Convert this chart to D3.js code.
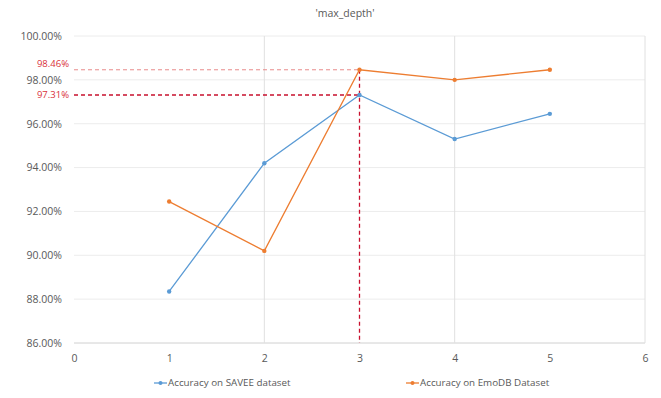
<!DOCTYPE html>
<html><head><meta charset="utf-8">
<script src="https://cdn.jsdelivr.net/npm/d3@7/dist/d3.min.js"></script>
<style>body{margin:0;background:#fff}svg{display:block}text{font-family:"Open Sans",sans-serif}</style>
</head><body>
<script>
const xValues = [1, 2, 3, 4, 5];
const savee = [88.35, 94.2, 97.31, 95.3, 96.45];
const emodb = [92.45, 90.2, 98.46, 98.0, 98.46];
const seriesNames = ["Accuracy on SAVEE dataset", "Accuracy on EmoDB Dataset"];
const xTicks = [0, 1, 2, 3, 4, 5, 6];
const yTicks = [86, 88, 90, 92, 94, 96, 98, 100];
const highlightX = 3;
const highlightY = [98.46, 97.31];
const title = "'max_depth'";

const W = 661, H = 398;
const svg = d3.select("body").append("svg").attr("width", W).attr("height", H);
const x = d3.scaleLinear().domain([0, 6]).range([74, 645]);
const y = d3.scaleLinear().domain([86, 100]).range([343, 36]);

svg.append("text").attr("x", 345).attr("y", 17).attr("text-anchor", "middle")
  .attr("font-size", 10.5).attr("fill", "#595959").text(title);

// gridlines
svg.append("g").selectAll("line").data(yTicks).join("line")
  .attr("x1", x(0)).attr("x2", x(6)).attr("y1", d => y(d)).attr("y2", d => y(d))
  .attr("stroke", d => d === 86 ? "#d0d0d0" : "#ececec").attr("stroke-width", 1);
svg.append("g").selectAll("line").data([2, 4, 6]).join("line")
  .attr("x1", d => x(d)).attr("x2", d => x(d)).attr("y1", y(100)).attr("y2", y(86))
  .attr("stroke", "#e0e0e0").attr("stroke-width", 1);

// axes labels
const yAxis = d3.axisLeft(y).tickValues(yTicks).tickFormat(d => d.toFixed(2) + "%").tickSize(0).tickPadding(12);
const gy = svg.append("g").attr("transform", `translate(${x(0)},0)`).call(yAxis);
gy.select(".domain").remove();
gy.selectAll("text").attr("font-size", 10.5).attr("fill", "#595959").attr("font-family", "Open Sans");

const xAxis = d3.axisBottom(x).tickValues(xTicks).tickFormat(d3.format("d")).tickSize(0).tickPadding(12);
const gx = svg.append("g").attr("transform", `translate(0,${y(86)})`).call(xAxis);
gx.select(".domain").remove();
gx.selectAll("text").attr("font-size", 10.5).attr("fill", "#595959").attr("font-family", "Open Sans");

// highlight dashed lines
const hl = svg.append("g");
const labelShift = [-6, 0];
highlightY.forEach((v, i) => {
  hl.append("line").attr("x1", x(0)).attr("x2", x(highlightX)).attr("y1", y(v)).attr("y2", y(v))
    .attr("stroke", i === 0 ? "#e88a8a" : "#c8102e").attr("stroke-width", i === 0 ? 1 : 1.3).attr("stroke-dasharray", "4,3");
  hl.append("text").attr("x", 69).attr("y", y(v) + labelShift[i]).attr("dy", "0.35em").attr("text-anchor", "end")
    .attr("font-size", 9.5).attr("fill", "#d9303a").text(v.toFixed(2) + "%");
});
hl.append("line").attr("x1", x(highlightX)).attr("x2", x(highlightX)).attr("y1", y(d3.max(highlightY))).attr("y2", y(86))
  .attr("stroke", "#c8102e").attr("stroke-width", 1.3).attr("stroke-dasharray", "4,3");

// series
const colors = ["#5b9bd5", "#ed7d31"];
const line = d3.line().x((d, i) => x(xValues[i])).y(d => y(d));
[savee, emodb].forEach((s, k) => {
  svg.append("path").datum(s).attr("d", line).attr("fill", "none").attr("stroke", colors[k]).attr("stroke-width", 1.3);
  svg.append("g").selectAll("circle").data(s).join("circle")
    .attr("cx", (d, i) => x(xValues[i])).attr("cy", d => y(d)).attr("r", 2.2).attr("fill", colors[k]);
});

// legend
const legX = [154, 406];
seriesNames.forEach((n, k) => {
  const g = svg.append("g").attr("transform", `translate(${legX[k]},383)`);
  g.append("line").attr("x1", 0).attr("x2", 13).attr("stroke", colors[k]).attr("stroke-width", 1.3);
  g.append("circle").attr("cx", 6.5).attr("r", 2).attr("fill", colors[k]);
  g.append("text").attr("x", 14).attr("dy", "0.35em").attr("font-size", 9.8).attr("fill", "#595959").text(n);
});
</script>
</body></html>
